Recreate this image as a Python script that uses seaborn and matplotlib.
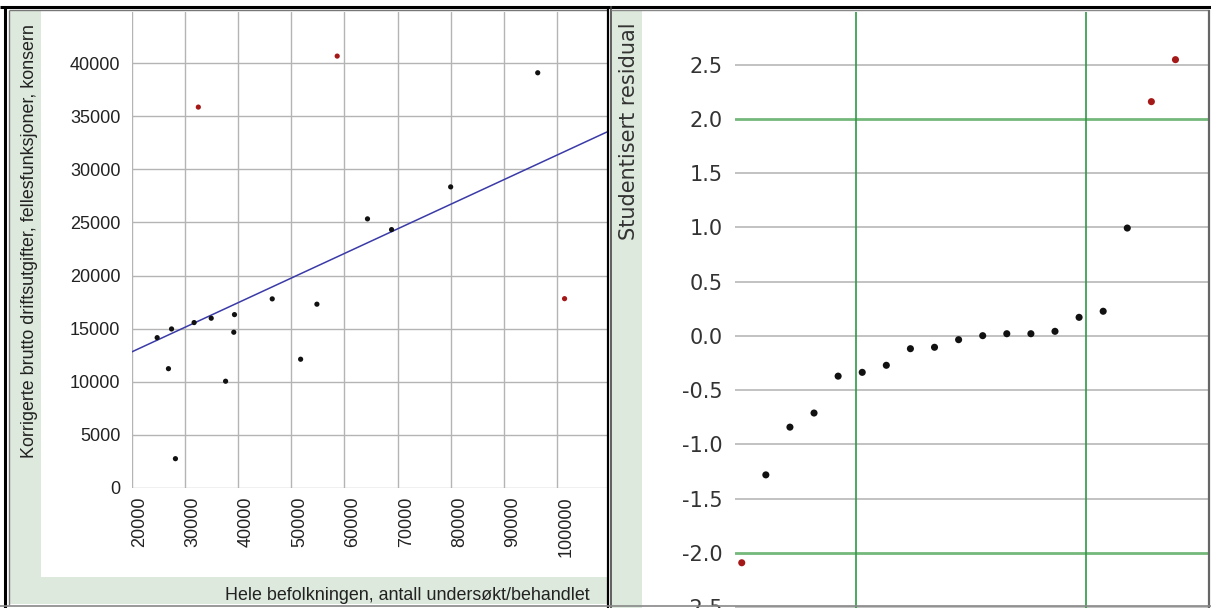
import numpy as np
import pandas as pd
import matplotlib
matplotlib.use("Agg")
import matplotlib.pyplot as plt
from matplotlib.patches import Rectangle
from matplotlib.lines import Line2D
import seaborn as sns

# ---------------- data ----------------
population = [24820, 26940, 27520, 28250, 31760, 34970, 37670, 39210, 39340, 46430,
              51760, 54820, 64320, 68840, 79940, 96290, 32550, 58630, 101330]
cost = [14150, 11230, 14970, 2760, 15570, 15980, 10050, 14660, 16320, 17800,
        12120, 17300, 25330, 24320, 28340, 39080, 35850, 40650, 17820]
is_outlier = [False] * 16 + [True, True, True]

residuals_sorted = [-2.09, -1.28, -0.84, -0.71, -0.37, -0.335, -0.27, -0.117, -0.104,
                    -0.034, 0.003, 0.021, 0.021, 0.043, 0.172, 0.228, 0.995, 2.16, 2.547]
green_vlines = [4.75, 14.27]
green_hlines = [2.0, -2.0]

x_ticks = [20000, 30000, 40000, 50000, 60000, 70000, 80000, 90000, 100000]
y_ticks = [0, 5000, 10000, 15000, 20000, 25000, 30000, 35000, 40000]
r_ticks = [-2.5, -2.0, -1.5, -1.0, -0.5, 0.0, 0.5, 1.0, 1.5, 2.0, 2.5]

xlabel_left = "Hele befolkningen, antall undersøkt/behandlet"
ylabel_left = "Korrigerte brutto driftsutgifter, fellesfunksjoner, konsern"
ylabel_right = "Studentisert residual"

# ---------------- styling ----------------
sns.set_theme(style="white")
W, H = 1211, 608
GREEN_BG = "#dde9dc"
DOT = "#111111"
RED = "#a51818"

fig = plt.figure(figsize=(W / 100, H / 100), dpi=100)
fig.patch.set_facecolor("white")

def fx(x):
    return x / W

def fy(y):
    return 1 - y / H

def rect(x0, y0, x1, y1, color, z=-5):
    fig.add_artist(Rectangle((fx(x0), fy(y1)), (x1 - x0) / W, (y1 - y0) / H,
                             transform=fig.transFigure, facecolor=color,
                             edgecolor="none", zorder=z))

def line(x0, y0, x1, y1, color, lw, z=10):
    fig.add_artist(Line2D([fx(x0), fx(x1)], [fy(y0), fy(y1)], transform=fig.transFigure,
                          color=color, lw=lw, zorder=z, solid_capstyle="butt"))

# panel backgrounds
rect(10, 11, 41, 604, GREEN_BG)          # left strip, left panel
rect(10, 577, 607, 604, GREEN_BG)        # bottom strip, left panel
rect(612, 11, 642, 608, GREEN_BG)        # left strip, right panel

# ---------------- left panel ----------------
axL = fig.add_axes([fx(131.5), fy(488), (607 - 131.5) / W, (488 - 12) / H])
df = pd.DataFrame({"pop": population, "cost": cost,
                   "grp": ["ut" if o else "in" for o in is_outlier]})
xlimL = (20000, 109300)
ylimL = (0, 44800)
axL.set_xlim(*xlimL)
axL.set_ylim(*ylimL)
sns.regplot(data=df, x="pop", y="cost", ax=axL, scatter=False, ci=None,
            truncate=False, line_kws={"color": "#3a3aa8", "lw": 1.1})
sns.scatterplot(data=df, x="pop", y="cost", hue="grp",
                palette={"in": DOT, "ut": RED}, s=14, linewidth=0,
                legend=False, ax=axL, zorder=5)
axL.set_xlim(*xlimL)
axL.set_ylim(*ylimL)
axL.set_xticks(x_ticks)
axL.set_yticks(y_ticks)
axL.set_xticklabels([str(v) for v in x_ticks], rotation=90, ha="left",
                    fontfamily="Liberation Sans", fontsize=13, color="#222222")
axL.set_yticklabels([str(v) for v in y_ticks],
                    fontfamily="Liberation Sans", fontsize=13, color="#222222")
axL.tick_params(axis="both", length=0)
axL.tick_params(axis="x", pad=6)
axL.tick_params(axis="y", pad=8)
axL.grid(True, color="#b4b4b4", lw=1.0)
axL.set_axisbelow(True)
for s in axL.spines.values():
    s.set_visible(False)
axL.set_xlabel("")
axL.set_ylabel("")

fig.text(fx(30), fy(458), ylabel_left, rotation=90, ha="center", va="bottom",
         fontfamily="Liberation Sans", fontsize=12.9, color="#222222")
fig.text(fx(590), fy(595), xlabel_left, ha="right", va="center",
         fontfamily="Liberation Sans", fontsize=12.9, color="#222222")

# ---------------- right panel ----------------
ylimR = (-2.507, 2.99)
y_top_px = 336 - ylimR[1] * 108.5
axR = fig.add_axes([fx(735), 0.0, (1208 - 735) / W, (H - y_top_px) / H])
rank = np.arange(len(residuals_sorted))
dfr = pd.DataFrame({"rank": rank, "res": residuals_sorted,
                    "grp": ["ut" if abs(r) > 2 else "in" for r in residuals_sorted]})
sns.scatterplot(data=dfr, x="rank", y="res", hue="grp",
                palette={"in": DOT, "ut": RED}, s=26, linewidth=0,
                legend=False, ax=axR, zorder=5)
axR.set_xlim(-0.28, 19.35)
axR.set_ylim(*ylimR)
axR.set_yticks(r_ticks)
axR.set_yticklabels([f"{v:.1f}" for v in r_ticks], fontfamily="DejaVu Sans",
                    fontsize=15, color="#333333")
axR.set_xticks([])
axR.tick_params(axis="y", length=0, pad=9)
axR.grid(False)
for v in r_ticks:
    if v not in green_hlines:
        axR.axhline(v, color="#b8b8b8", lw=1.2, zorder=1)
for v in green_hlines:
    axR.axhline(v, color="#74b87a", lw=2.0, zorder=2)
for v in green_vlines:
    axR.axvline(v, color="#2f9a45", lw=1.2, zorder=2)
for s in axR.spines.values():
    s.set_visible(False)
axR.set_xlabel("")
axR.set_ylabel("")

fig.text(fx(629), fy(240), ylabel_right, rotation=90, ha="center", va="bottom",
         fontfamily="DejaVu Sans", fontsize=15, color="#333333")

# ---------------- frames ----------------
line(0, 6.5, W, 6.5, "black", 2.2)                 # top
line(5, 6, 5, H, "black", 2.2)                     # far left
line(9, 10, 9, 605, "#777777", 1.0)                # inner left
line(9, 10, 607, 10, "#777777", 1.0)               # inner top left
line(608, 6, 608, H, "black", 1.6)                 # divider
line(611, 6, 611, H, "#444444", 1.2)               # divider inner
line(611, 10, 1209, 10, "#888888", 1.0)            # inner top right
line(1209, 10, 1209, H, "#666666", 1.6)            # right border
line(0, 605.5, W, 605.5, "#888888", 1.2)           # bottom

fig.savefig("out.png", dpi=100, facecolor="white")
